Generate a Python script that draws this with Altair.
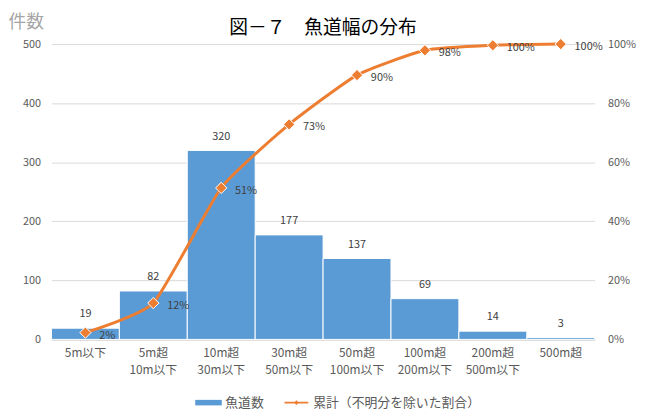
import altair as alt
import pandas as pd

categories = ["5m以下", "5m超\n10m以下", "10m超\n30m以下", "30m超\n50m以下",
              "50m超\n100m以下", "100m超\n200m以下", "200m超\n500m以下", "500m超"]
counts = [19, 82, 320, 177, 137, 69, 14, 3]
cum_share = [0.023, 0.123, 0.513, 0.728, 0.895, 0.979, 0.996, 1.0]
series_names = ["魚道数", "累計（不明分を除いた割合）"]
left_ticks = [0, 100, 200, 300, 400, 500]
right_ticks = [0, 0.2, 0.4, 0.6, 0.8, 1.0]

df = pd.DataFrame({"cat": categories, "count": counts, "cum": cum_share,
                   "series": series_names[1]})

FONT = "Noto Sans CJK JP"
BLUE = "#5B9BD5"
ORANGE = "#ED7D31"
GRAY = "#595959"
GRID = "#D9D9D9"

x = alt.X("cat:N", sort=categories,
          scale=alt.Scale(paddingInner=0, paddingOuter=0),
          axis=alt.Axis(title=None, labelAngle=0,
                        labelExpr="split(datum.value, '\\n')",
                        labelFontSize=12, labelColor=GRAY, labelFont=FONT,
                        labelPadding=8, labelLineHeight=18, ticks=False,
                        domainColor=GRID, domainWidth=1.5))

y_count = alt.Y("count:Q", scale=alt.Scale(domain=[0, 500], nice=False),
                axis=alt.Axis(values=left_ticks, title="件数", titleAngle=0,
                              titleAlign="left", titleBaseline="alphabetic",
                              titleX=-44, titleY=-17, titleFontSize=18,
                              titleColor="#A6A6A6", titleFontWeight="normal",
                              titleFont=FONT,
                              labelColor=GRAY, labelFontSize=11, labelFont=FONT,
                              labelPadding=11, grid=True, gridColor=GRID,
                              domain=False, ticks=False))

y_cum = alt.Y("cum:Q", scale=alt.Scale(domain=[0, 1], nice=False),
              axis=alt.Axis(orient="right", format=".0%", values=right_ticks,
                            grid=False, domain=False, ticks=False,
                            labelPadding=13, labelColor=GRAY, labelFontSize=11,
                            labelFont=FONT, title=None))

bars = alt.Chart(df).mark_bar(color=BLUE, stroke="white", strokeWidth=1).encode(
    x=x, y=y_count)
bar_text = alt.Chart(df).mark_text(dy=-14, fontSize=11, color="#404040",
                                   font=FONT).encode(x=x, y=y_count, text="count:Q")

line = alt.Chart(df).mark_line(color=ORANGE, strokeWidth=3,
                               interpolate="cardinal", tension=0.5).encode(x=x, y=y_cum)
pts = alt.Chart(df).mark_point(shape="diamond", filled=True, size=130,
                               fill=ORANGE, stroke="white", strokeWidth=1,
                               opacity=1).encode(x=x, y=y_cum)
pct_text = alt.Chart(df).mark_text(align="left", dx=14, dy=3, fontSize=11,
                                   color="#404040", font=FONT).encode(
    x=x, y=y_cum, text=alt.Text("cum:Q", format=".0%"))

bar_path = "M-0.96,-0.2H0.96V0.2H-0.96Z"
line_path = "M-0.86,-0.07H0.86V0.07H-0.86Z M0,-0.17L0.17,0L0,0.17L-0.17,0Z"
leg = alt.Legend(title=None, orient="none", legendX=145, legendY=349,
                 direction="horizontal", symbolSize=784, symbolStrokeWidth=0,
                 labelFontSize=13, labelColor=GRAY, labelFont=FONT,
                 columnPadding=18, labelOffset=3, labelLimit=0)
legend_layer = alt.Chart(df).mark_point(filled=True, opacity=1).encode(
    x=x, y=y_cum,
    color=alt.Color("series:N", scale=alt.Scale(domain=series_names, range=[BLUE, ORANGE]), legend=leg),
    shape=alt.Shape("series:N", scale=alt.Scale(domain=series_names, range=[bar_path, line_path]), legend=leg),
).transform_filter("datum.count < 0")

left = alt.layer(bars, bar_text)
right = alt.layer(line, pts, pct_text, legend_layer)

chart = alt.layer(left, right).resolve_scale(y="independent").properties(
    width=550, height=299,
    autosize=alt.AutoSizeParams(type="none"),
    padding={"left": 44, "top": 34, "right": 57, "bottom": 76},
    title=alt.TitleParams("図－７　魚道幅の分布", fontSize=19, fontWeight="normal",
                          color="black", anchor="middle", font=FONT, offset=-25),
).configure_view(stroke=None)

chart.save("out.html", embed_options={"renderer": "svg", "actions": False})
